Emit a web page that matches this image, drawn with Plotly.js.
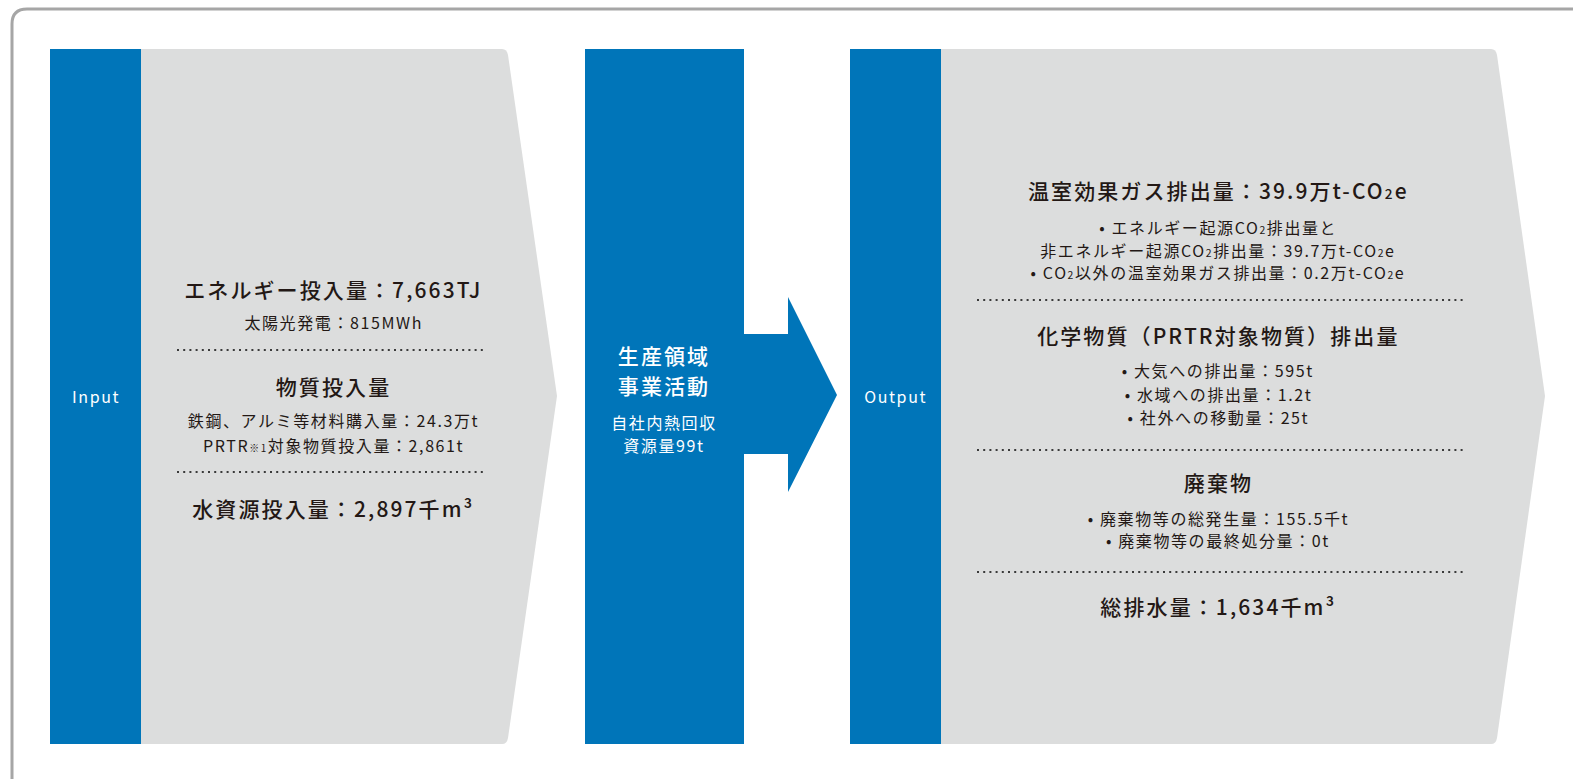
<!DOCTYPE html>
<html>
<head>
<meta charset="utf-8">
<script src="https://cdn.plot.ly/plotly-3.0.1.min.js"></script>
<style>
html,body{margin:0;padding:0;background:#fff;}
#chart .annotation-text{letter-spacing:0.1em;}
</style>
</head>
<body>
<div id="chart" style="width:1573px;height:779px;"></div>
<script>
// ---- content ----
const SUB2 = '<span style="font-size:65%">2</span>';
const NOTE1 = '<span style="font-size:62%">※1</span>';
const sideLabels = ["Input", "Output"];
const inputHeadings = ["エネルギー投入量：7,663TJ", "物質投入量", "水資源投入量：2,897千m³"];
const inputDetails = [
  ["太陽光発電：815MWh"],
  ["鉄鋼、アルミ等材料購入量：24.3万t", "PRTR" + NOTE1 + "対象物質投入量：2,861t"],
  []
];
const processTitle = ["生産領域", "事業活動"];
const processDetails = ["自社内熱回収", "資源量99t"];
const outputHeadings = [
  "温室効果ガス排出量：39.9万t-CO" + SUB2 + "e",
  "化学物質（PRTR対象物質）排出量",
  "廃棄物",
  "総排水量：1,634千m³"
];
const outputDetails = [
  ["• エネルギー起源CO" + SUB2 + "排出量と", "非エネルギー起源CO" + SUB2 + "排出量：39.7万t-CO" + SUB2 + "e", "• CO" + SUB2 + "以外の温室効果ガス排出量：0.2万t-CO" + SUB2 + "e"],
  ["• 大気への排出量：595t", "• 水域への排出量：1.2t", "• 社外への移動量：25t"],
  ["• 廃棄物等の総発生量：155.5千t", "• 廃棄物等の最終処分量：0t"],
  []
];

// ---- styling / layout ----
const BLUE = "#0075b9", GRAY = "#dcdddd", TXT = "#231815";
const FONT = "Noto Sans CJK JP";
const HEAD = 21, DET = 16;

const shapes = [];
const annotations = [];

function txt(x, y, text, size, color, heavy) {
  annotations.push({x: x, y: y, xref: "x", yref: "y", text: text,
    showarrow: false, xanchor: "center", yanchor: "middle",
    font: {family: FONT, size: size, color: color, weight: heavy ? 500 : 400}});
}
function dots(x0, x1, y) {
  shapes.push({type: "line", xref: "x", yref: "y", x0: x0, x1: x1, y0: y, y1: y,
    line: {color: "#3a3a3a", width: 2, dash: "2px,4.2px"}});
}
function path(d, fill, line) {
  shapes.push({type: "path", xref: "x", yref: "y", path: d, fillcolor: fill,
    line: line || {width: 0}, layer: "below"});
}

// outer frame
path("M12,800 L12,24 Q12,9 27,9 L1600,9", "rgba(0,0,0,0)", {color: "#a6a6a6", width: 3});

// left input panel
path("M141,49 L502,49 Q507,49 508,55 L557,396 L508,738 Q507,744 502,744 L141,744 Z", GRAY);
path("M50,49 L141,49 L141,744 L50,744 Z", BLUE);
// middle process with arrow
path("M585,49 L744,49 L744,334 L788,334 L788,297 L837,395 L788,492 L788,454 L744,454 L744,744 L585,744 Z", BLUE);
// right output panel
path("M941,49 L1491,49 Q1496,49 1497,55 L1545,396 L1497,738 Q1496,744 1491,744 L941,744 Z", GRAY);
path("M850,49 L941,49 L941,744 L850,744 Z", BLUE);

// side labels
txt(96, 396, sideLabels[0], 16, "#ffffff", false);
txt(895, 396, sideLabels[1], 16, "#ffffff", false);

// input text
const LX = 333;
const inHeadY = [289, 386, 508];
const inDetY = [[322], [420, 445], []];
const inDotY = [350, 472];
inputHeadings.forEach((h, i) => {
  txt(LX, inHeadY[i], h, HEAD, TXT, true);
  inputDetails[i].forEach((d, j) => txt(LX, inDetY[i][j], d, DET, TXT, false));
});
inDotY.forEach(y => dots(177, 487, y));

// process text
const MX = 664;
[355, 385].forEach((y, i) => txt(MX, y, processTitle[i], HEAD, "#ffffff", true));
[422, 445].forEach((y, i) => txt(MX, y, processDetails[i], DET, "#ffffff", false));

// output text
const RX = 1218;
const outHeadY = [190, 335, 482, 606];
const outDetY = [[227, 250, 272], [370, 394, 417], [518, 540], []];
const outDotY = [300, 450, 572];
outputHeadings.forEach((h, i) => {
  txt(RX, outHeadY[i], h, HEAD, TXT, true);
  outputDetails[i].forEach((d, j) => txt(RX, outDetY[i][j], d, DET, TXT, false));
});
outDotY.forEach(y => dots(977, 1465, y));

const layout = {
  width: 1573, height: 779,
  margin: {l: 0, r: 0, t: 0, b: 0},
  paper_bgcolor: "#ffffff", plot_bgcolor: "#ffffff",
  xaxis: {range: [0, 1573], visible: false, fixedrange: true},
  yaxis: {range: [779, 0], visible: false, fixedrange: true},
  showlegend: false,
  shapes: shapes,
  annotations: annotations
};
Plotly.newPlot("chart", [{x: [], y: [], type: "scatter"}], layout, {staticPlot: true, displayModeBar: false});
</script>
</body>
</html>
